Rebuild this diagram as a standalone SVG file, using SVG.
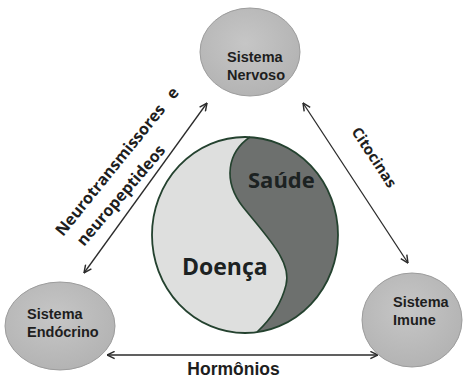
<svg xmlns="http://www.w3.org/2000/svg" width="467" height="379" viewBox="0 0 467 379">
<defs>
<marker id="ah" viewBox="0 0 10 10" refX="9.5" refY="5" markerWidth="9" markerHeight="9" markerUnits="userSpaceOnUse" orient="auto-start-reverse">
<path d="M1,1 L9.5,5 L1,9" fill="none" stroke="#2b2b2b" stroke-width="1.6"/>
</marker>
<radialGradient id="ng" cx="0.45" cy="0.4" r="0.65">
<stop offset="0" stop-color="#c6c6c6"/>
<stop offset="1" stop-color="#b2b2b2"/>
</radialGradient>
</defs>
<style>
.node ellipse{fill:url(#ng);stroke:#9c9c9c;stroke-width:1}
.nl{font-family:"Liberation Sans",Arial,sans-serif;font-weight:bold;font-size:14.5px;fill:#1e1e1e}
.conn line{stroke:#2b2b2b;stroke-width:1.3;marker-start:url(#ah);marker-end:url(#ah)}
.lbl{font-family:"Open Sans","Liberation Sans",sans-serif;font-weight:bold;font-size:16px;fill:#1e1e1e}
.big{font-family:"Open Sans","Liberation Sans",sans-serif;font-weight:bold;font-size:22px;fill:#1c2222}
</style>
<rect width="467" height="379" fill="#ffffff"/>
<g id="connectors" class="conn">
<line x1="84" y1="273" x2="207" y2="103"/>
<line x1="303" y1="103" x2="408" y2="263"/>
<line x1="107" y1="355" x2="378" y2="355"/>
</g>
<g id="labels">
<text class="lbl" transform="translate(63,237) rotate(-51)"><tspan>Neurotransmissores</tspan><tspan x="176">e</tspan></text>
<text class="lbl" transform="translate(84,247) rotate(-49.5)">neuropeptideos</text>
<text class="lbl" text-anchor="middle" transform="translate(374,157.5) rotate(56.7)" y="5" style="font-size:15px">Citocinas</text>
<text class="lbl" text-anchor="middle" x="233.5" y="375" style="font-family:'Liberation Sans',Arial,sans-serif;font-size:17.5px">Hormônios</text>
</g>
<g id="node-nervoso" class="node">
<ellipse cx="250" cy="52" rx="50" ry="44"/>
<text class="nl" x="227" y="62">Sistema</text>
<text class="nl" x="227" y="80">Nervoso</text>
</g>
<g id="node-endocrino" class="node">
<ellipse cx="60" cy="326" rx="55" ry="44"/>
<text class="nl" x="27" y="319">Sistema</text>
<text class="nl" x="27" y="337">Endócrino</text>
</g>
<g id="node-imune" class="node">
<ellipse cx="412" cy="320" rx="50" ry="47"/>
<text class="nl" x="393" y="307">Sistema</text>
<text class="nl" x="393" y="325">Imune</text>
</g>
<g id="node-center">
<ellipse cx="245" cy="235" rx="93" ry="98" fill="#dedfde"/>
<path d="M250,137 C228,152 222,180 243,207 C268,238 292,262 286,285 C281,305 270,320 257,332 A93,98 0 0 0 250,137 Z" fill="#6d706e"/>
<path d="M250,137 C228,152 222,180 243,207 C268,238 292,262 286,285 C281,305 270,320 257,332" fill="none" stroke="#24422f" stroke-width="1.6"/>
<ellipse cx="245" cy="235" rx="93" ry="98" fill="none" stroke="#24422f" stroke-width="1.8"/>
<text class="big" x="248" y="188">Saúde</text>
<text class="big" x="182" y="275" style="font-size:23px">Doença</text>
</g>
</svg>
